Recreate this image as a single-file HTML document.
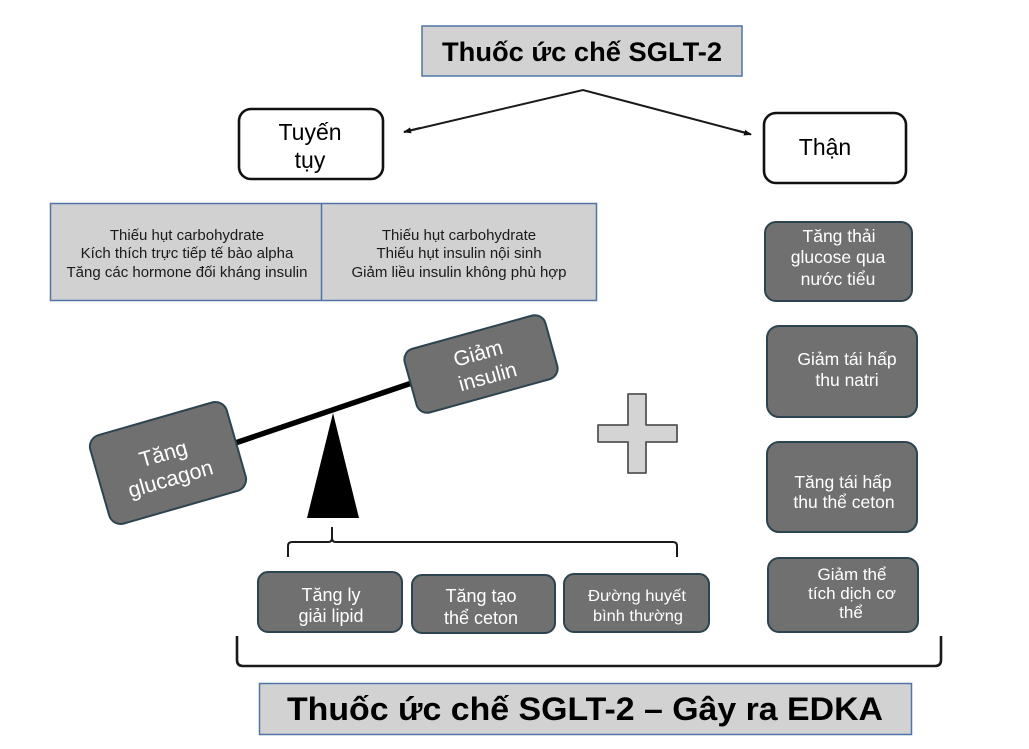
<!DOCTYPE html>
<html><head><meta charset="utf-8"><style>
html,body{margin:0;padding:0;background:#fff;}
svg{display:block;}
text{font-family:"Liberation Sans",Arial,sans-serif;}
</style></head><body>
<svg width="1029" height="749" viewBox="0 0 1029 749" xmlns="http://www.w3.org/2000/svg">
<defs>
<marker id="ah" markerWidth="8" markerHeight="8" refX="7" refY="4" orient="auto" markerUnits="userSpaceOnUse">
<path d="M0,1 L8,4 L0,7 Z" fill="#111"/>
</marker>
</defs>
<rect x="0" y="0" width="1029" height="749" fill="#fff"/>

<!-- top title -->
<rect x="422" y="26" width="320" height="50" fill="#d2d2d2" stroke="#4f74a8" stroke-width="1.5"/>
<text x="582" y="61" font-size="27" font-weight="bold" text-anchor="middle" fill="#000" textLength="280" lengthAdjust="spacingAndGlyphs">Thuốc ức chế SGLT-2</text>

<!-- connectors -->
<polyline points="404,132 583,90 750,134" fill="none" stroke="#1a1a1a" stroke-width="2"/>
<line x1="420" y1="128" x2="404" y2="132" stroke="#1a1a1a" stroke-width="2" marker-end="url(#ah)"/>
<line x1="735" y1="130" x2="751" y2="134.5" stroke="#1a1a1a" stroke-width="2" marker-end="url(#ah)"/>

<!-- Tuyen tuy -->
<rect x="239" y="109" width="144" height="70" rx="12" ry="12" fill="#fff" stroke="#111" stroke-width="2.6"/>
<text x="310" y="140" font-size="23" text-anchor="middle" fill="#000">Tuyến</text>
<text x="310" y="168" font-size="23" text-anchor="middle" fill="#000">tụy</text>

<!-- Than -->
<rect x="764" y="113" width="142" height="70" rx="12" ry="12" fill="#fff" stroke="#111" stroke-width="2.6"/>
<text x="825" y="155" font-size="23" text-anchor="middle" fill="#000">Thận</text>

<!-- table -->
<rect x="50.5" y="203.5" width="546" height="97" fill="#d1d1d1" stroke="#4f74a8" stroke-width="1.5"/>
<line x1="321.5" y1="203.5" x2="321.5" y2="300.5" stroke="#4f74a8" stroke-width="1.5"/>
<g font-size="15" fill="#1a1a1a" text-anchor="middle">
<text x="187" y="240">Thiếu hụt carbohydrate</text>
<text x="187" y="258">Kích thích trực tiếp tế bào alpha</text>
<text x="187" y="277">Tăng các hormone đối kháng insulin</text>
<text x="459" y="240">Thiếu hụt carbohydrate</text>
<text x="459" y="258">Thiếu hụt insulin nội sinh</text>
<text x="459" y="277">Giảm liều insulin không phù hợp</text>
</g>

<!-- seesaw -->
<line x1="200" y1="455" x2="450" y2="370" stroke="#000" stroke-width="5.5"/>
<polygon points="333,413 307,518 359,518" fill="#000"/>

<g transform="translate(168,463) rotate(-16)">
<rect x="-71" y="-46" width="142" height="92" rx="12" ry="12" fill="#707070" stroke="#2c4450" stroke-width="2"/>
<text x="-2" y="-3" font-size="21.5" fill="#fff" text-anchor="middle">Tăng</text>
<text x="-2" y="23" font-size="21.5" fill="#fff" text-anchor="middle">glucagon</text>
</g>
<g transform="translate(481,364) rotate(-15.5)">
<rect x="-73" y="-33" width="146" height="66" rx="11" ry="11" fill="#707070" stroke="#2c4450" stroke-width="2"/>
<text x="0" y="-4" font-size="21" fill="#fff" text-anchor="middle">Giảm</text>
<text x="3" y="21" font-size="21" fill="#fff" text-anchor="middle">insulin</text>
</g>

<!-- plus -->
<polygon points="628,394 646,394 646,425 677,425 677,442 646,442 646,473 628,473 628,442 598,442 598,425 628,425" fill="#d4d4d4" stroke="#555" stroke-width="1.8" stroke-linejoin="round"/>

<!-- right column boxes -->
<g fill="#707070" stroke="#2c4450" stroke-width="2">
<rect x="765" y="222" width="147" height="79" rx="11" ry="11"/>
<rect x="767" y="326" width="150" height="91" rx="12" ry="12"/>
<rect x="767" y="442" width="150" height="90" rx="12" ry="12"/>
<rect x="768" y="558" width="150" height="74" rx="11" ry="11"/>
</g>
<g fill="#fff" text-anchor="middle" font-size="17.5">
<text x="839" y="242">Tăng thải</text>
<text x="838" y="263">glucose qua</text>
<text x="838" y="285">nước tiểu</text>
<text x="847" y="365">Giảm tái hấp</text>
<text x="847" y="386">thu natri</text>
<text x="843" y="488">Tăng tái hấp</text>
<text x="844" y="508">thu thể ceton</text>
</g>
<g fill="#fff" text-anchor="middle" font-size="17">
<text x="852" y="580">Giảm thể</text>
<text x="852" y="599">tích dịch cơ</text>
<text x="851" y="618">thể</text>
</g>

<!-- small bracket -->
<path d="M288,557 L288,546 Q288,542 292,542 L328,542 Q332,542 332,538 L332,527 M332,538 Q332,542 336,542 L673,542 Q677,542 677,546 L677,557" fill="none" stroke="#1a1a1a" stroke-width="2"/>

<!-- bottom row boxes -->
<g fill="#707070" stroke="#2c4450" stroke-width="2">
<rect x="258" y="572" width="144" height="60" rx="10" ry="10"/>
<rect x="412" y="575" width="143" height="58" rx="10" ry="10"/>
<rect x="564" y="574" width="145" height="58" rx="10" ry="10"/>
</g>
<g fill="#fff" text-anchor="middle" font-size="18">
<text x="331" y="601">Tăng ly</text>
<text x="331" y="622">giải lipid</text>
<text x="481" y="602">Tăng tạo</text>
<text x="481" y="624">thể ceton</text>
</g>
<g fill="#fff" text-anchor="middle" font-size="16">
<text x="637" y="601" textLength="98" lengthAdjust="spacingAndGlyphs">Đường huyết</text>
<text x="638" y="621" textLength="90" lengthAdjust="spacingAndGlyphs">bình thường</text>
</g>

<!-- big bracket -->
<path d="M237,636 L237,660 Q237,666 243,666 L935,666 Q941,666 941,660 L941,636" fill="none" stroke="#1a1a1a" stroke-width="2.6"/>

<!-- bottom title -->
<rect x="259.5" y="683.5" width="652" height="51" fill="#d2d2d2" stroke="#4f74a8" stroke-width="1.5"/>
<text x="585" y="720" font-size="32" font-weight="bold" text-anchor="middle" fill="#000" textLength="596" lengthAdjust="spacingAndGlyphs">Thuốc ức chế SGLT-2 – Gây ra EDKA</text>
</svg>
</body></html>
